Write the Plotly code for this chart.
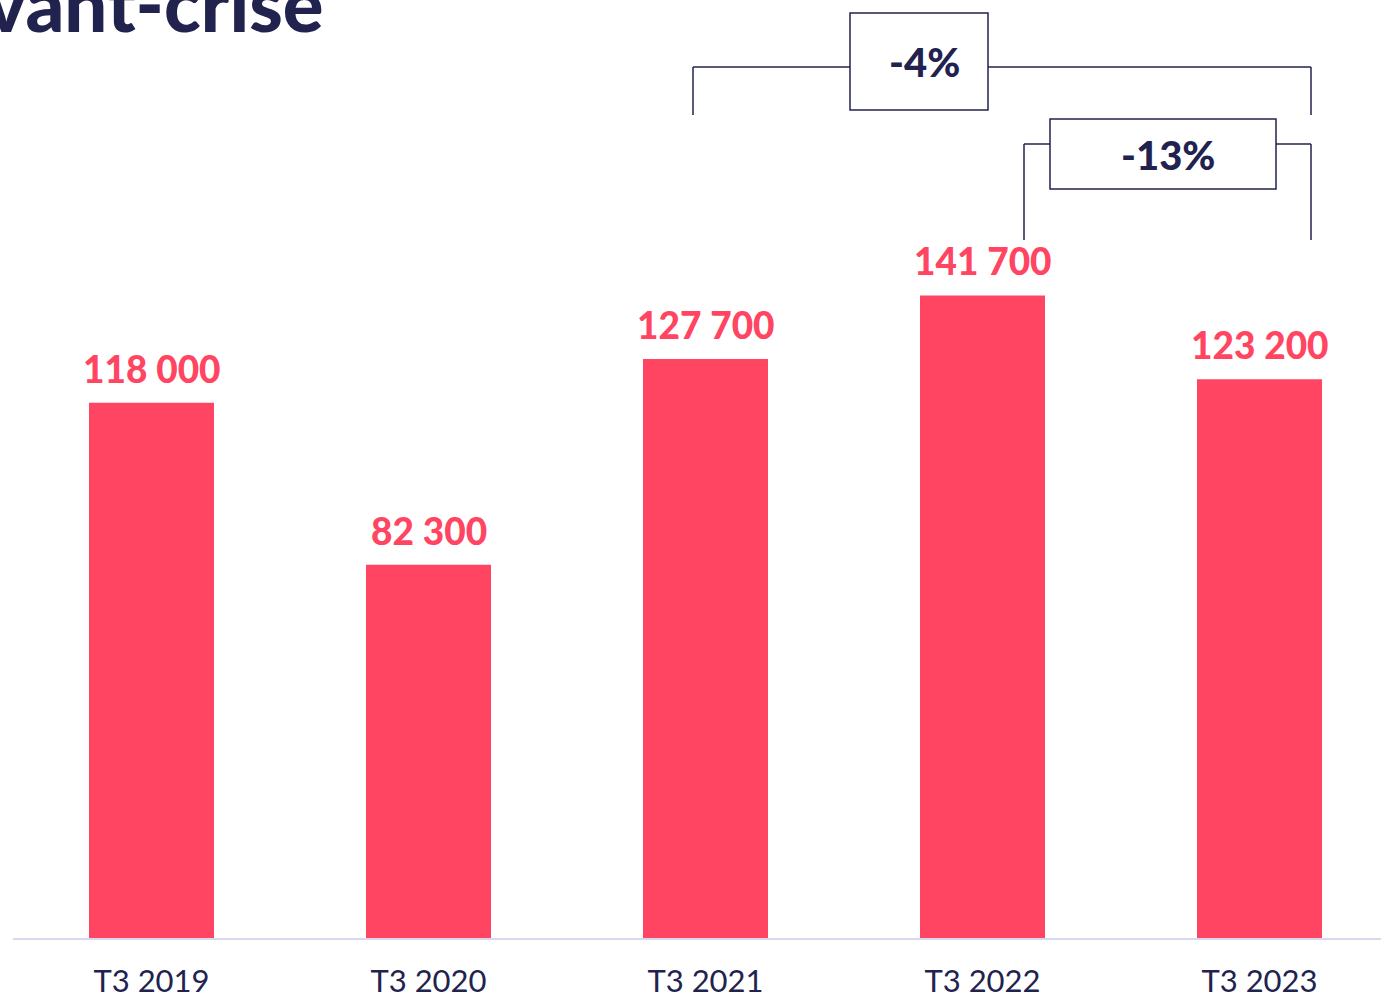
import plotly.graph_objects as go

categories = ["T3 2019", "T3 2020", "T3 2021", "T3 2022", "T3 2023"]
values = [118000, 82300, 127700, 141700, 123200]
change_labels = ["-4%", "-13%"]
title_text = "avant-crise"

BAR = "#FF4562"
NAVY = "#22224F"
AXIS = "#D8D8EE"
FONT = "Lato"

W, H = 1381, 993
ML, MR, MT, MB = 13, 0, 0, 55
STEP = 277.0            # pixels per category
YMAX = 938 / 0.004535   # data value at top of plot area

def xd(px):
    return (px - ML) / STEP - 0.5

def yd(py):
    return (H - MB - py) / (H - MB - MT) * YMAX

fig = go.Figure()
fig.add_trace(go.Bar(
    x=categories, y=values, marker=dict(color=BAR, line=dict(width=0)),
    hoverinfo="skip", showlegend=False,
))

# value labels
for c, v in zip(categories, values):
    fig.add_annotation(
        x=c, y=v, xref="x", yref="y", text=f"{v:,}".replace(",", " "),
        showarrow=False, yanchor="bottom", yshift=10,
        font=dict(family=FONT, size=37, color=BAR, weight=900),
    )

# brackets
LW = 1.5
def line(x0, y0, x1, y1):
    fig.add_shape(type="line", xref="x", yref="y",
                  x0=xd(x0), y0=yd(y0), x1=xd(x1), y1=yd(y1),
                  line=dict(color=NAVY, width=LW))

def box(x0, y0, x1, y1):
    fig.add_shape(type="rect", xref="x", yref="y",
                  x0=xd(x0), y0=yd(y0), x1=xd(x1), y1=yd(y1),
                  line=dict(color=NAVY, width=LW), fillcolor="white")

# -4% bracket (T3 2021 -> T3 2023)
line(693, 115, 693, 67)
line(693, 67, 1311, 67)
line(1311, 67, 1311, 115)
box(850, 13, 988, 110)
fig.add_annotation(x=xd(924), y=yd(62), xref="x", yref="y", text=change_labels[0],
                   showarrow=False, font=dict(family=FONT, size=40, color=NAVY, weight=900))

# -13% bracket (T3 2022 -> T3 2023)
line(1024, 240, 1024, 144)
line(1024, 144, 1311, 144)
line(1311, 144, 1311, 240)
box(1050, 119, 1276, 189)
fig.add_annotation(x=xd(1168), y=yd(155), xref="x", yref="y", text=change_labels[1],
                   showarrow=False, font=dict(family=FONT, size=40, color=NAVY, weight=900))

# title (cut off at top-left of the page)
fig.add_annotation(x=xd(326), y=yd(33), xref="x", yref="y", text=title_text,
                   showarrow=False, xanchor="right", yanchor="bottom", yshift=-17,
                   font=dict(family=FONT, size=76, color=NAVY, weight=900))

fig.update_layout(
    template="none",
    width=W, height=H,
    margin=dict(l=ML, r=MR, t=MT, b=MB, pad=0, autoexpand=False),
    paper_bgcolor="white", plot_bgcolor="white",
    bargap=1 - 125 / STEP,
    xaxis=dict(
        type="category", range=[-0.5, -0.5 + (W - ML - MR) / STEP],
        automargin=False,
        showline=True, linecolor=AXIS, linewidth=2,
        showgrid=False, zeroline=False, ticks="",
        ticklabelstandoff=15,
        tickfont=dict(family=FONT, size=31, color=NAVY),
    ),
    yaxis=dict(range=[0, YMAX], visible=False, automargin=False,
               showgrid=False, zeroline=False),
)

fig.write_html(
    "out.html",
    config={"displayModeBar": False},
    post_script="document.body.style.margin='0';",
)
